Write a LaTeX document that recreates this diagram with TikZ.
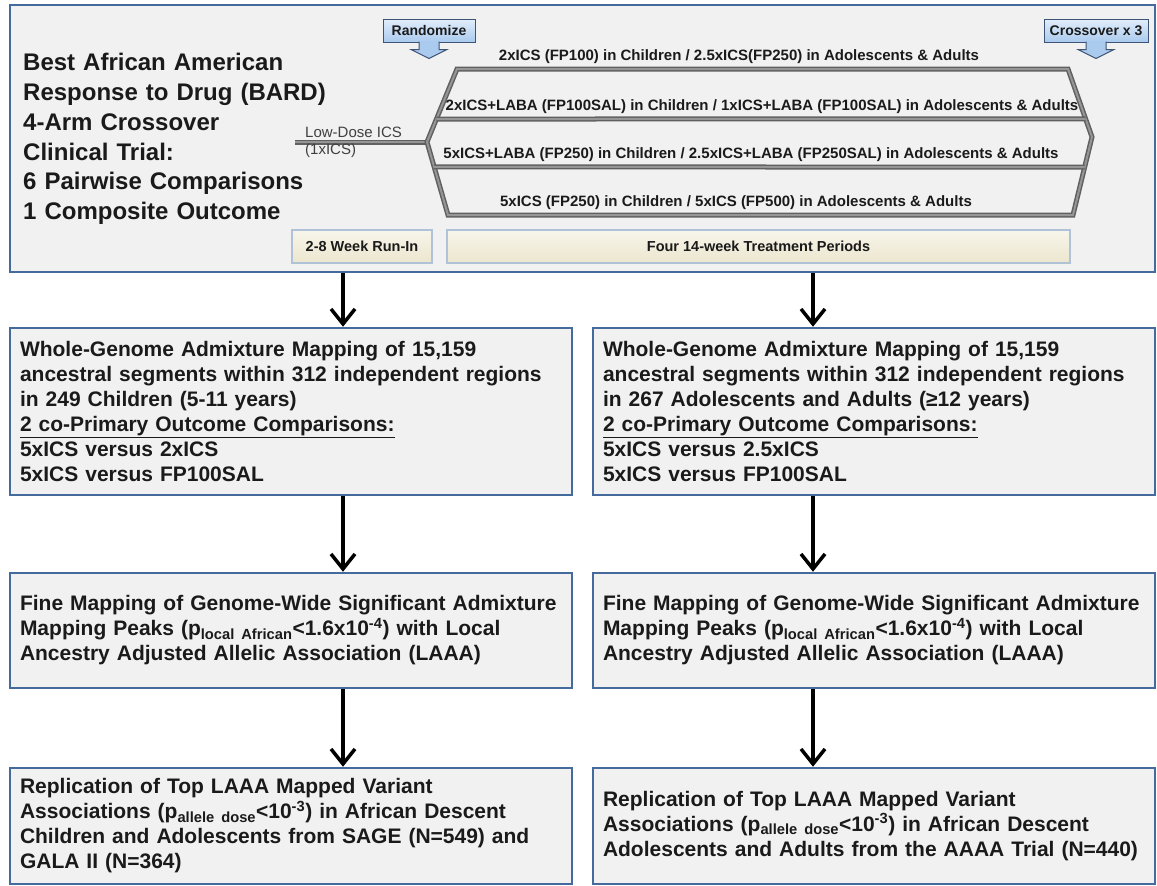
\documentclass[tikz,border=0pt]{standalone}
\usepackage{fontspec}
\setmainfont{Liberation Sans}
\usepackage{xcolor}
\usepackage{tikz}
\usetikzlibrary{arrows.meta,calc,positioning}
\definecolor{boxBlue}{RGB}{68,106,158}
\definecolor{boxGray}{RGB}{241,241,241}
\definecolor{textBlack}{RGB}{26,26,26}
\definecolor{phaseTan}{RGB}{236,230,206}
\definecolor{phaseEdge}{RGB}{176,194,216}
\definecolor{calloutTop}{RGB}{226,238,251}
\definecolor{calloutBottom}{RGB}{170,202,238}
\definecolor{calloutEdge}{RGB}{62,84,116}
\definecolor{tubeDark}{RGB}{96,96,96}
\definecolor{tubeLight}{RGB}{150,150,150}
\tikzstyle{trialbox} = [rectangle, draw=boxBlue, line width=2.5pt, fill=boxGray]
\tikzstyle{studybox} = [rectangle, draw=boxBlue, line width=2.5pt, fill=boxGray,
    text width=542pt, inner xsep=10pt, align=left, text=textBlack,
    font=\fontsize{21}{25}\selectfont\bfseries]
\tikzstyle{phase} = [rectangle, draw=phaseEdge, line width=1.5pt, top color=phaseTan!40!white,
    bottom color=phaseTan, minimum height=33pt, text=textBlack,
    font=\fontsize{14.5}{17}\selectfont\bfseries]
\tikzstyle{callout} = [rectangle, draw=calloutEdge, line width=1pt, top color=calloutTop,
    bottom color=calloutBottom, minimum height=23pt, text=textBlack,
    font=\fontsize{14}{16}\selectfont\bfseries]
\tikzstyle{calloutarrow} = [draw=calloutEdge, line width=1pt, fill=calloutBottom, line join=miter]
\tikzstyle{armlabel} = [text=textBlack, inner sep=0pt, font=\fontsize{15}{17}\selectfont\bfseries]
\tikzstyle{tube} = [draw=tubeDark, line width=5pt, postaction={draw=tubeLight, line width=2pt}]
\tikzstyle{arrow} = [draw, -{Straight Barb[length=15pt,width=24pt]}, line width=3.5pt]

\begin{document}
\begin{tikzpicture}[x=1pt, y=-1pt, node distance=2cm, auto]
	\useasboundingbox (0,0) rectangle (1157,886);
	% Place nodes
	\node [trialbox, minimum width=1145pt, minimum height=267pt] (trialBox) at (582.5,138.5) {};
	\node [anchor=west, text width=340pt, align=left, inner sep=0pt, text=textBlack,
	    font=\fontsize{24}{29.7}\selectfont\bfseries] (bardTitle) at (23,139)
	    {Best African American\\Response to Drug (BARD)\\4-Arm Crossover\\Clinical Trial:\\6 Pairwise Comparisons\\1 Composite Outcome};
	% Treatment arms
	\coordinate (lowStart) at (295,142);
	\coordinate (branch) at (427,142);
	\coordinate (armTopLeft) at (457,69);
	\coordinate (armTopRight) at (1068,69);
	\coordinate (fanTip) at (1092,137);
	\coordinate (armBottomRight) at (1073,215);
	\coordinate (armBottomLeft) at (448,215);
	\path [tube] (lowStart) -- (branch);
	\path [tube] (branch) -- (armTopLeft) -- (armTopRight) -- (fanTip) -- (armBottomRight) -- (armBottomLeft) -- cycle;
	\path [tube] ($(branch)!0.315!(armTopLeft)$) -- ($(fanTip)!0.265!(armTopRight)$);
	\path [tube] ($(branch)!0.342!(armBottomLeft)$) -- ($(fanTip)!0.385!(armBottomRight)$);
	\node [anchor=west, align=left, inner sep=0pt, text=black!75, font=\fontsize{15}{17}\selectfont] (lowDose) at (305,142) {Low-Dose ICS\\(1xICS)};
	\node [armlabel] (armOne) at (739,57) {2xICS (FP100) in Children / 2.5xICS(FP250) in Adolescents \& Adults};
	\node [armlabel] (armTwo) at (762,107) {2xICS+LABA (FP100SAL) in Children / 1xICS+LABA (FP100SAL) in Adolescents \& Adults};
	\node [armlabel] (armThree) at (751,155) {5xICS+LABA (FP250) in Children / 2.5xICS+LABA (FP250SAL) in Adolescents \& Adults};
	\node [armlabel] (armFour) at (736,203) {5xICS (FP250) in Children / 5xICS (FP500) in Adolescents \& Adults};
	% Callouts
	\node [callout, minimum width=92pt] (randomize) at (429,30.5) {Randomize};
	\path [calloutarrow] ($(randomize.south)+(-10,-1)$) -- ++(0,8) -- ++(-8,0) -- ($(randomize.south)+(0,16)$)
	    -- ($(randomize.south)+(18,7)$) -- ++(-8,0) -- ++(0,-8);
	\node [callout, minimum width=104pt] (crossover) at (1096,30.5) {Crossover x 3};
	\path [calloutarrow] ($(crossover.south)+(-10,-1)$) -- ++(0,8) -- ++(-8,0) -- ($(crossover.south)+(0,16)$)
	    -- ($(crossover.south)+(18,7)$) -- ++(-8,0) -- ++(0,-8);
	% Periods
	\node [phase, minimum width=140pt] (runIn) at (362,246.5) {2-8 Week Run-In};
	\node [phase, minimum width=623pt] (treatment) at (758.5,246.5) {Four 14-week Treatment Periods};
	% Analysis boxes
	\node [studybox, minimum height=167pt] (admixChildren) at (291,411.5)
	    {Whole-Genome Admixture Mapping of 15,159\\ancestral segments within 312 independent regions\\in 249 Children (5-11 years)\\\underline{2 co-Primary Outcome Comparisons:}\\5xICS versus 2xICS\\5xICS versus FP100SAL};
	\node [studybox, minimum height=115pt, below of=admixChildren, node distance=219pt] (fineChildren)
	    {Fine Mapping of Genome-Wide Significant Admixture\\Mapping Peaks (p\textsubscript{local African}<1.6x10\textsuperscript{-4}) with Local\\Ancestry Adjusted Allelic Association (LAAA)};
	\node [studybox, minimum height=116pt, below of=fineChildren, node distance=195.5pt] (replChildren)
	    {Replication of Top LAAA Mapped Variant\\Associations (p\textsubscript{allele dose}<10\textsuperscript{-3}) in African Descent\\Children and Adolescents from SAGE (N=549) and\\GALA II (N=364)};
	\node [studybox, minimum height=167pt, right of=admixChildren, node distance=583pt] (admixAdults)
	    {Whole-Genome Admixture Mapping of 15,159\\ancestral segments within 312 independent regions\\in 267 Adolescents and Adults (≥12 years)\\\underline{2 co-Primary Outcome Comparisons:}\\5xICS versus 2.5xICS\\5xICS versus FP100SAL};
	\node [studybox, minimum height=115pt, below of=admixAdults, node distance=219pt] (fineAdults)
	    {Fine Mapping of Genome-Wide Significant Admixture\\Mapping Peaks (p\textsubscript{local African}<1.6x10\textsuperscript{-4}) with Local\\Ancestry Adjusted Allelic Association (LAAA)};
	\node [studybox, minimum height=116pt, below of=fineAdults, node distance=195.5pt] (replAdults)
	    {Replication of Top LAAA Mapped Variant\\Associations (p\textsubscript{allele dose}<10\textsuperscript{-3}) in African Descent\\Adolescents and Adults from the AAAA Trial (N=440)};
	% Connectors
	\coordinate (leftLane) at (343,0);
	\coordinate (rightLane) at (813,0);
	\path [arrow] (trialBox.south -| leftLane) -- (admixChildren.north -| leftLane);
	\path [arrow] (admixChildren.south -| leftLane) -- (fineChildren.north -| leftLane);
	\path [arrow] (fineChildren.south -| leftLane) -- (replChildren.north -| leftLane);
	\path [arrow] (trialBox.south -| rightLane) -- (admixAdults.north -| rightLane);
	\path [arrow] (admixAdults.south -| rightLane) -- (fineAdults.north -| rightLane);
	\path [arrow] (fineAdults.south -| rightLane) -- (replAdults.north -| rightLane);
\end{tikzpicture}
\end{document}
